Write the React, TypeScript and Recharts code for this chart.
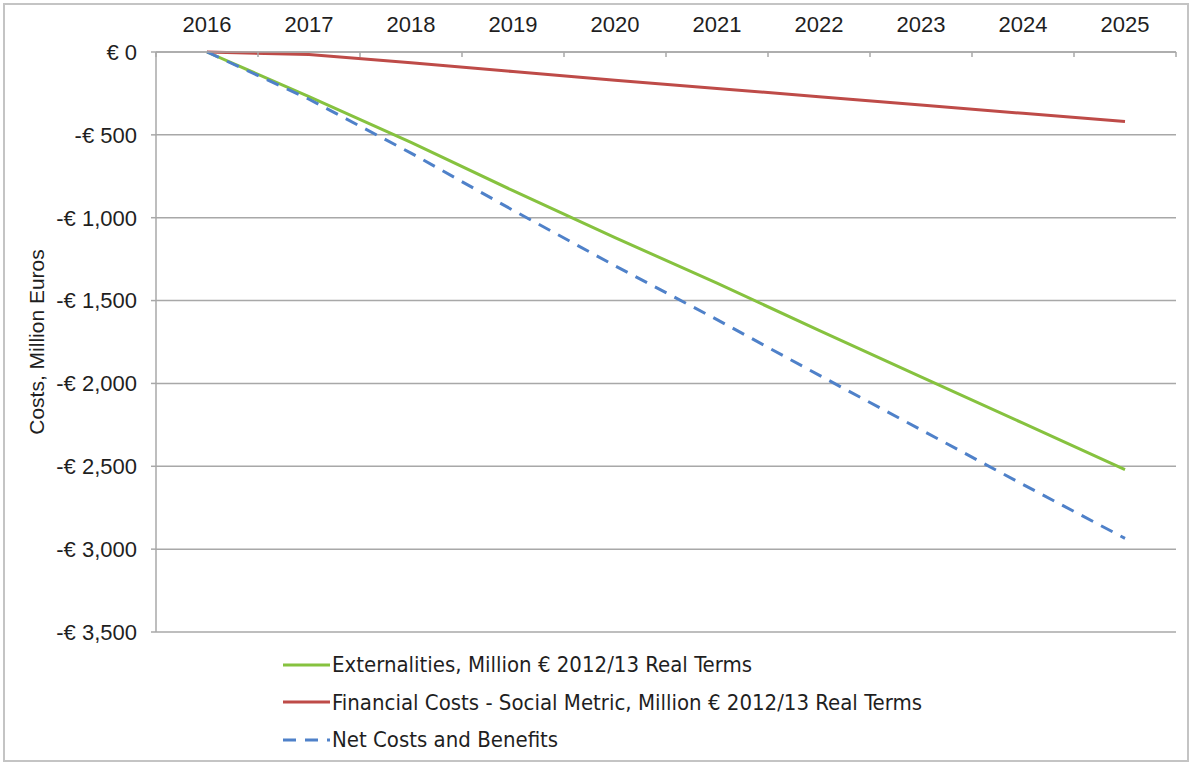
import React from "react";
import { LineChart, Line, XAxis, YAxis, CartesianGrid } from "recharts";

const years = [2016, 2017, 2018, 2019, 2020, 2021, 2022, 2023, 2024, 2025];
const externalities = [0, -270, -545, -837, -1120, -1395, -1680, -1960, -2240, -2520];
const financialCosts = [0, -15, -65, -118, -170, -220, -270, -320, -370, -420];
const netCosts = [0, -285, -610, -955, -1290, -1615, -1950, -2280, -2610, -2935];
const yTicks = [0, -500, -1000, -1500, -2000, -2500, -3000, -3500];

const seriesNames = {
  ext: "Externalities, Million € 2012/13 Real Terms",
  fin: "Financial Costs - Social Metric, Million € 2012/13 Real Terms",
  net: "Net Costs and Benefits",
};

const rows = years.map((year, i) => ({
  year,
  ext: externalities[i],
  fin: financialCosts[i],
  net: netCosts[i],
}));

const W = 1192;
const H = 763;
const MARGIN = { top: 22, right: 16, bottom: 131, left: 0 };
const Y_AXIS_W = 156;
const X_AXIS_H = 30;
const PLOT_W = W - MARGIN.left - MARGIN.right - Y_AXIS_W;
const STEP = PLOT_W / years.length;

const GREEN = "#86c23f";
const RED = "#be4b48";
const BLUE = "#4f81c9";
const GRID = "#a8a8a8";
const TEXT = "#1f1f1f";
const FONT = '"Liberation Sans", Arial, sans-serif';
const NARROW = '"Liberation Sans Narrow", "Arial Narrow", "DejaVu Sans Condensed", sans-serif';

const X_TICK_SIZE = 6;
const X_TICK_MARGIN = 14;

const fmtEuro = (v: number) =>
  v === 0 ? "€ 0" : `-€ ${Math.abs(v).toLocaleString("en-US")}`;

// category labels centred, tick marks sit between categories (Excel style)
function YearTick(props: any) {
  const { x, y, payload, index } = props;
  const axisY = y + X_TICK_SIZE + X_TICK_MARGIN;
  const last = index === years.length - 1;
  return (
    <g>
      <text x={x} y={y} textAnchor="middle" fontSize={22} fontFamily={FONT} fill={TEXT}>
        {payload.value}
      </text>
      <line x1={x - STEP / 2} x2={x - STEP / 2} y1={axisY} y2={axisY + 5} stroke={GRID} strokeWidth={1.5} />
      {last && (
        <line x1={x + STEP / 2} x2={x + STEP / 2} y1={axisY} y2={axisY + 5} stroke={GRID} strokeWidth={1.5} />
      )}
    </g>
  );
}

function LegendRow({ color, dash, label }: { color: string; dash?: string; label: string }) {
  return (
    <div style={{ display: "flex", alignItems: "center", height: 37.5 }}>
      <svg width={48} height={8} style={{ marginRight: 1 }}>
        <line x1={0} x2={47} y1={4} y2={4} stroke={color} strokeWidth={3} strokeDasharray={dash} />
      </svg>
      <span style={{ fontFamily: NARROW, fontSize: 22, color: TEXT, whiteSpace: "nowrap" }}>{label}</span>
    </div>
  );
}

export default function App() {
  return (
    <div style={{ position: "absolute", left: 0, top: 0, width: W, height: H, background: "#fff" }}>
      <div
        style={{
          position: "absolute",
          left: 3,
          top: 3,
          width: 1182,
          height: 755,
          border: "2px solid #c4c4c4",
        }}
      />
      <LineChart width={W} height={H} data={rows} margin={MARGIN}>
        <CartesianGrid horizontal vertical={false} stroke={GRID} strokeWidth={1.5} />
        <XAxis
          dataKey="year"
          type="number"
          orientation="top"
          domain={[2015.5, 2025.5]}
          ticks={years}
          height={X_AXIS_H}
          tickSize={X_TICK_SIZE}
          tickMargin={X_TICK_MARGIN}
          tickLine={false}
          axisLine={{ stroke: GRID, strokeWidth: 1.5 }}
          tick={<YearTick />}
          interval={0}
        />
        <YAxis
          type="number"
          domain={[-3500, 0]}
          ticks={yTicks}
          width={Y_AXIS_W}
          tickFormatter={fmtEuro}
          tickSize={5}
          tickMargin={14}
          tickLine={{ stroke: GRID, strokeWidth: 1.5 }}
          axisLine={{ stroke: GRID, strokeWidth: 1.5 }}
          tick={{ fontSize: 22, fontFamily: FONT, fill: TEXT }}
          interval={0}
          label={{
            value: "Costs, Million Euros",
            angle: -90,
            position: "insideLeft",
            offset: 37,
            style: { fontSize: 21, fontFamily: FONT, fill: TEXT, textAnchor: "middle" },
          }}
        />
        <Line
          dataKey="ext"
          name={seriesNames.ext}
          stroke={GREEN}
          strokeWidth={3}
          dot={false}
          isAnimationActive={false}
        />
        <Line
          dataKey="fin"
          name={seriesNames.fin}
          stroke={RED}
          strokeWidth={3}
          dot={false}
          isAnimationActive={false}
        />
        <Line
          dataKey="net"
          name={seriesNames.net}
          stroke={BLUE}
          strokeWidth={3}
          strokeDasharray="13 9"
          dot={false}
          isAnimationActive={false}
        />
      </LineChart>
      <div style={{ position: "absolute", left: 283, top: 646 }}>
        <LegendRow color={GREEN} label={seriesNames.ext} />
        <LegendRow color={RED} label={seriesNames.fin} />
        <LegendRow color={BLUE} dash="13 9" label={seriesNames.net} />
      </div>
    </div>
  );
}
